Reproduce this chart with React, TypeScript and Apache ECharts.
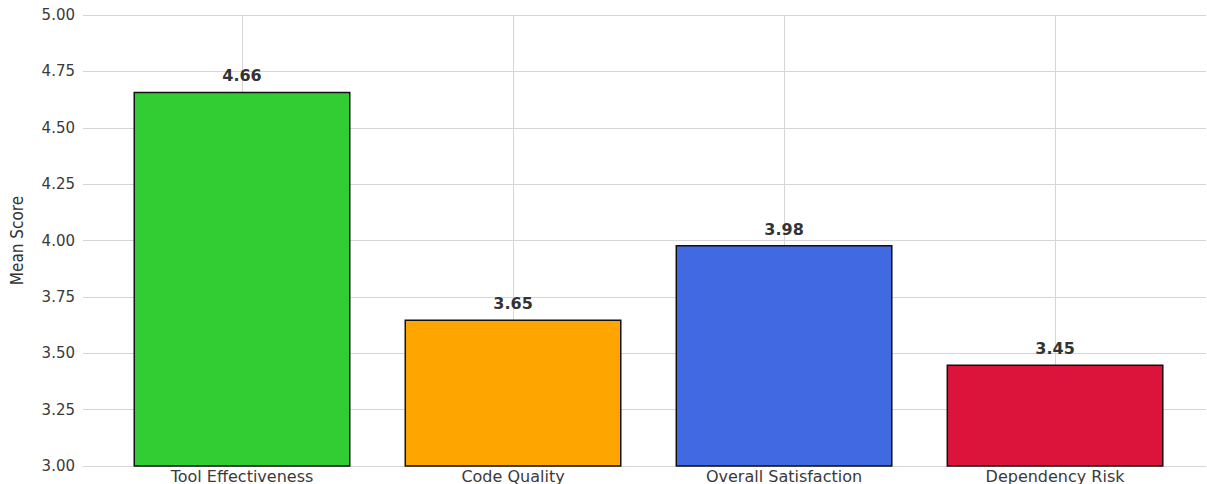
import React, { useEffect, useRef } from "react";
import * as echarts from "echarts";

const categories = ["Tool Effectiveness", "Code Quality", "Overall Satisfaction", "Dependency Risk"];
const meanScores = [4.66, 3.65, 3.98, 3.45];
const barColors = ["#32CD32", "#FFA500", "#4169E1", "#DC143C"];
const categoryPositions = [0, 1, 2, 3];
const yTicks = { min: 3, max: 5, interval: 0.25 };

export default function App() {
  const ref = useRef<HTMLDivElement>(null);
  useEffect(() => {
    if (!ref.current) return;
    const chart = echarts.init(ref.current, null, { renderer: "svg" });
    const gridColor = "#d6d6d6";
    chart.setOption({
      animation: false,
      backgroundColor: "#ffffff",
      grid: { left: 83, right: 1, top: 15, bottom: 18, containLabel: false },
      xAxis: {
        type: "value",
        min: -0.5867,
        max: 3.557,
        axisLine: { show: true, lineStyle: { color: gridColor, width: 1 } },
        axisTick: { show: false, customValues: categoryPositions },
        splitLine: { show: true, lineStyle: { color: gridColor, width: 1 } },
        axisLabel: {
          customValues: categoryPositions,
          formatter: (v: number) => categories[Math.round(v)] ?? "",
          color: "#3a3a3a",
          fontFamily: "'DejaVu Sans', sans-serif",
          fontSize: 16,
          margin: 2,
        },
      },
      yAxis: {
        type: "value",
        min: yTicks.min,
        max: yTicks.max,
        interval: yTicks.interval,
        name: "Mean Score",
        nameLocation: "middle",
        nameGap: 58,
        nameTextStyle: {
          color: "#333",
          fontFamily: "'Liberation Sans Narrow', 'DejaVu Sans Condensed', sans-serif",
          fontSize: 17,
        },
        axisLine: { show: true, lineStyle: { color: gridColor, width: 1 } },
        axisTick: { show: false },
        splitLine: { show: true, lineStyle: { color: gridColor, width: 1 } },
        axisLabel: {
          formatter: (v: number) => v.toFixed(2),
          color: "#3a3a3a",
          fontFamily: "'DejaVu Sans', sans-serif",
          fontSize: 15,
          margin: 8,
        },
      },
      series: [
        {
          type: "bar",
          barWidth: 217,
          data: meanScores.map((v, i) => ({
            value: [categoryPositions[i], v],
            itemStyle: { color: barColors[i], borderColor: "#111", borderWidth: 1.5 },
          })),
          label: {
            show: true,
            position: "top",
            distance: 8,
            formatter: (p: any) => p.value[1].toFixed(2),
            color: "#333",
            fontFamily: "'DejaVu Sans', sans-serif",
            fontWeight: "bold",
            fontSize: 16,
          },
        },
      ],
    });
    return () => chart.dispose();
  }, []);
  return (
    <div
      ref={ref}
      style={{ position: "fixed", left: 0, top: 0, width: 1207, height: 484 }}
    />
  );
}
